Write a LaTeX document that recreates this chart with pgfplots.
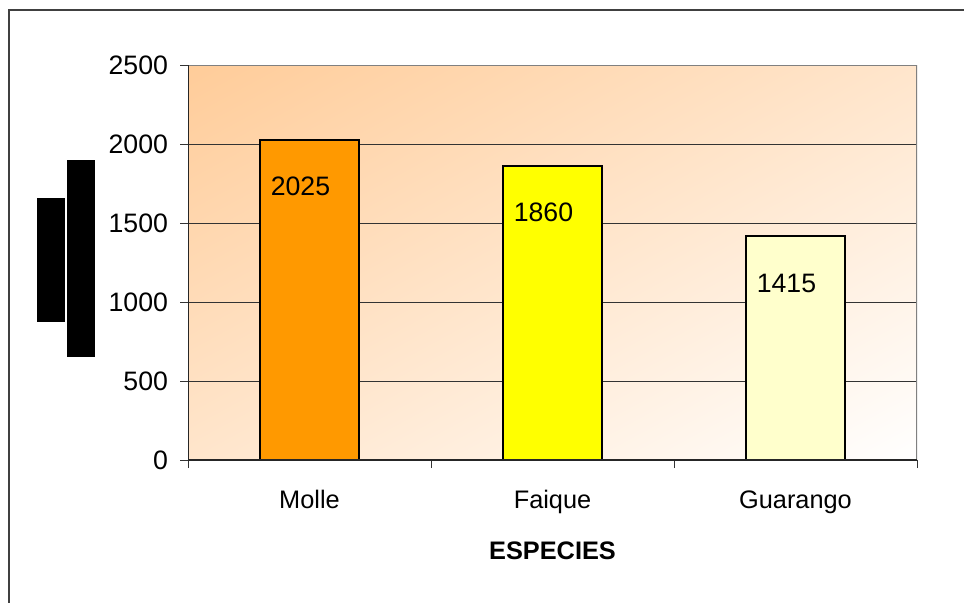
\documentclass[border=0pt]{standalone}
\usepackage{fontspec}
\setmainfont{Liberation Sans}
\usepackage{pgfplots}
\pgfplotsset{compat=1.18}
\definecolor{molle}{HTML}{FF9900}
\definecolor{faique}{HTML}{FFFF00}
\definecolor{guarango}{HTML}{FFFFCC}
\definecolor{bgorange}{HTML}{FFCC99}
\begin{document}
\fontsize{19pt}{22pt}\selectfont
\begin{tikzpicture}
\useasboundingbox (0,0) rectangle (723pt,-452.25pt);
% outer chart frame
\draw[line width=1.2pt, black!75] (6.75pt,-470pt) -- (6.75pt,-7.5pt) -- (740pt,-7.5pt);
% vertical axis title block
\fill (27.75pt,-148.5pt) rectangle (48.75pt,-241.5pt);
\fill (50.25pt,-120pt) rectangle (71.25pt,-267.75pt);
% diagonal gradient behind the plot area
\begin{scope}
  \clip (141pt,-345pt) rectangle (687.75pt,-48.75pt);
  \begin{scope}[transform canvas={shift={(414.375pt,-196.875pt)}, rotate=28.45}]
    \shade[top color=bgorange, middle color=bgorange!60!white, bottom color=white]
      (-400pt,-262pt) rectangle (400pt,262pt);
  \end{scope}
\end{scope}
\begin{axis}[
  at={(141pt,-345pt)}, anchor=south west,
  scale only axis, width=546.75pt, height=296.25pt,
  xmin=-0.5, xmax=2.5, ymin=0, ymax=2500,
  ytick={0,500,1000,1500,2000,2500},
  xtick={0,1,2}, xticklabels={Molle,Faique,Guarango},
  minor xtick={-0.5,0.5,1.5,2.5},
  major x tick style={draw=none},
  tick pos=left, tick align=outside,
  major tick length=6pt, minor tick length=6pt,
  every tick/.style={black!80, line width=0.75pt},
  ymajorgrids,
  major grid style={black!80, line width=0.75pt},
  axis line style={draw=none},
  yticklabel style={font=\fontsize{20pt}{24pt}\selectfont, anchor=east, xshift=-2.5pt},
  xticklabel style={font=\fontsize{19pt}{22pt}\selectfont, anchor=base, yshift=-30pt},
  /pgf/number format/assume math mode=true,
  /pgf/number format/1000 sep={},
  xlabel={\bfseries ESPECIES},
  xlabel style={at={(axis description cs:0.5,-0.2304)}, anchor=center, font=\fontsize{19pt}{22pt}\selectfont},
  ybar, bar width=74.25pt, bar shift=0pt,
  nodes near coords,
  every node near coord/.append style={anchor=center, xshift=-6.75pt, yshift=-35pt, black, font=\fontsize{20pt}{24pt}\selectfont},
]
\addplot[fill=molle, draw=black, line width=1.5pt] coordinates {(0,2025)};
\addplot[fill=faique, draw=black, line width=1.5pt] coordinates {(1,1860)};
\addplot[fill=guarango, draw=black, line width=1.5pt] coordinates {(2,1415)};
\draw[black!50, line width=1.5pt] (rel axis cs:0,1) -- (rel axis cs:1,1) -- (rel axis cs:1,0);
\draw[black!85, line width=1pt] (rel axis cs:0,1) -- (rel axis cs:0,0) -- (rel axis cs:1,0);
\end{axis}
\end{tikzpicture}
\end{document}
